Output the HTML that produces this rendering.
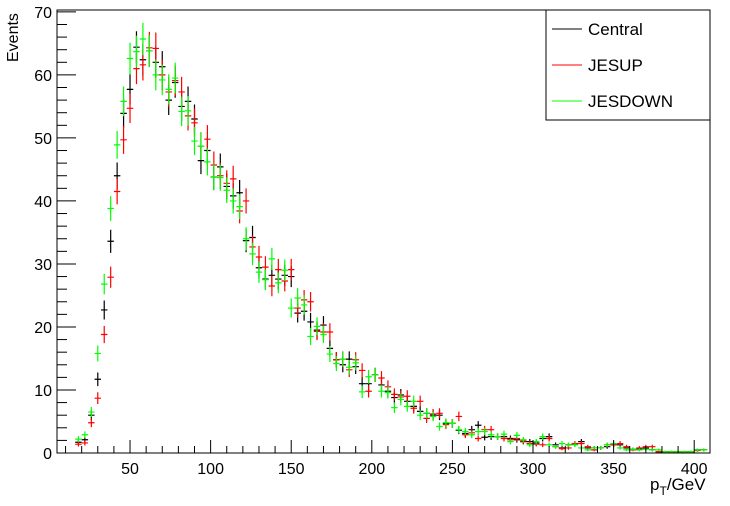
<!DOCTYPE html>
<html><head><meta charset="utf-8"><style>
body{margin:0;background:#fff;}
svg{display:block;font-family:"Liberation Sans",sans-serif;}
</style></head><body>
<svg id="chart" width="730" height="506" viewBox="0 0 730 506" xmlns="http://www.w3.org/2000/svg">
<rect x="0" y="0" width="730" height="506" fill="#fff"/>
<g id="marks"></g>
<g id="axes"></g>
<rect x="57" y="10" width="653" height="443" fill="none" stroke="#000" stroke-width="1"/>
<text transform="translate(18,62) rotate(-90)" font-size="16">Events</text>
<text x="650" y="490" font-size="17">p<tspan font-size="12" dy="5">T</tspan><tspan dy="-5">/GeV</tspan></text>
<g>
<rect x="546" y="10" width="164" height="110" fill="#fff" stroke="#000"/>
<g><line x1="552" y1="29" x2="582" y2="29" stroke="#000"/><text x="588" y="35" font-size="17">Central</text></g>
<g><line x1="552" y1="65" x2="582" y2="65" stroke="#ff0000"/><text x="588" y="71" font-size="17">JESUP</text></g>
<g><line x1="552" y1="101" x2="582" y2="101" stroke="#00ff00"/><text x="588" y="107" font-size="17">JESDOWN</text></g>
</g>
</svg>
<script>
const binCenters = [];
for (let c = 6; c <= 406; c += 4) binCenters.push(c);
const central = [0,0,0,1.7,2.1,6.0,11.7,22.7,33.6,44.0,53.9,57.7,64.4,62.4,63.8,62.0,61.3,56.0,58.8,55.0,55.8,53.0,46.4,48.0,43.8,45.4,42.3,40.8,41.3,33.7,34.2,29.4,27.6,28.2,27.6,28.2,28.0,22.2,22.5,20.8,19.5,20.3,16.6,14.8,14.0,14.9,13.7,11.0,11.0,12.4,10.8,9.8,8.8,9.2,8.2,7.4,6.6,6.3,6.0,6.0,4.7,4.7,3.6,3.1,3.7,4.4,2.5,2.6,2.6,2.6,2.3,2.1,1.8,1.8,1.6,2.3,2.6,1.3,0.8,1.3,1.4,1.8,0.8,0.8,0.8,1.0,1.3,1.3,0.8,0.6,0.6,0.8,0.5,0.2,0.2,0.2,0.2,0.2,0.2,0.5,0.5];
const jesUp = [0,0,0,1.4,1.6,4.8,8.7,18.8,27.9,41.5,49.7,54.7,61.0,61.6,64.3,64.2,60.0,57.3,59.1,57.3,53.5,52.4,48.7,49.8,45.7,44.0,42.8,43.5,38.4,40.0,32.7,31.1,29.5,26.5,29.1,27.3,29.1,23.0,24.3,24.0,19.3,19.2,19.2,14.8,14.9,13.2,14.8,13.1,9.8,12.4,11.9,10.5,9.3,8.9,9.0,7.1,8.2,5.5,6.2,6.3,4.5,4.7,5.8,2.9,3.2,2.3,3.7,3.7,2.6,2.3,2.1,2.3,1.9,1.5,1.4,1.3,2.3,1.0,0.7,0.8,1.5,1.5,1.0,0.5,0.8,1.3,1.3,1.5,1.0,0.5,0.8,1.0,1.0,0.2,0.2,0.2,0.2,0.2,0.2,0.4,0.5];
const jesDown = [0,0,0,2.2,2.9,6.5,15.8,26.8,38.8,48.9,55.8,62.6,63.7,65.7,63.8,60.0,59.2,57.7,59.5,54.2,54.3,49.5,48.7,46.2,43.8,43.7,41.7,40.0,39.1,34.0,31.6,28.7,27.5,30.8,27.0,29.0,23.0,24.6,23.5,18.5,20.1,18.8,15.7,14.2,14.9,13.6,14.3,9.7,12.1,12.4,9.8,9.6,7.2,8.5,7.4,8.2,6.0,6.3,5.8,4.2,4.8,4.7,3.7,3.4,2.9,3.4,3.4,2.9,2.6,3.0,1.8,2.8,2.1,1.3,1.8,2.6,1.3,1.0,1.5,1.3,1.3,0.8,0.5,0.8,0.8,1.3,1.5,0.8,0.5,0.6,0.5,0.6,0.5,0.5,0.2,0.2,0.2,0.2,0.2,0.5,0.5];
const xTicks = [50,100,150,200,250,300,350,400];
const yTicks = [0,10,20,30,40,50,60,70];

const X0 = 57, X1 = 710, Y0 = 453, Y1 = 10;
const xMin = 4.7, xMax = 409.8, yMin = 0, yMax = 70.3;
const binW = 4;
function xs(v){ return X0 + (v - xMin) / (xMax - xMin) * (X1 - X0); }
function ys(v){ return Y0 - (v - yMin) / (yMax - yMin) * (Y0 - Y1); }
const NS = "http://www.w3.org/2000/svg";
function mk(tag, attrs, parent){ const e = document.createElementNS(NS, tag); for (const k in attrs) e.setAttribute(k, attrs[k]); parent.appendChild(e); return e; }

const axes = document.getElementById('axes');
// x ticks
for (let v = 10; v <= 400; v += 10) {
  const major = v % 50 === 0;
  const t = mk('line', {x1: xs(v), x2: xs(v), y1: Y0, y2: Y0 - (major ? 13 : 7), stroke: '#000'}, axes);
  
  
}
xTicks.forEach(v => {
  const t = mk('text', {x: xs(v), y: 474, 'font-size': 16, 'text-anchor': 'middle'}, axes);
  t.textContent = v;
  
  
});
// y ticks
for (let v = 0; v <= 70; v += 2) {
  const major = v % 10 === 0;
  const t = mk('line', {x1: X0, x2: X0 + (major ? 19 : 10), y1: ys(v), y2: ys(v), stroke: '#000'}, axes);
  
  
}
yTicks.forEach(v => {
  const t = mk('text', {x: 52, y: ys(v) + 6, 'font-size': 16, 'text-anchor': 'end'}, axes);
  t.textContent = v;
  
  
});

const marks = document.getElementById('marks');
function drawSeries(vals, color, name){
  const g = mk('g', {stroke: color, 'stroke-width': 1.2}, marks);
  
  
  vals.forEach((v, i) => {
    const c = binCenters[i];
    if (v <= 0) return;
    const err = Math.sqrt(0.1 * v);
    const p = mk('path', {d: 'M' + xs(c - binW/2) + ' ' + ys(v) + 'H' + xs(c + binW/2) + 'M' + xs(c) + ' ' + ys(v + err) + 'V' + ys(Math.max(0, v - err)), fill: 'none'}, g);
    
    
  });
}
drawSeries(central, '#000000', 'central');
drawSeries(jesUp, '#ff0000', 'jesup');
drawSeries(jesDown, '#00ff00', 'jesdown');
</script>
</body></html>
